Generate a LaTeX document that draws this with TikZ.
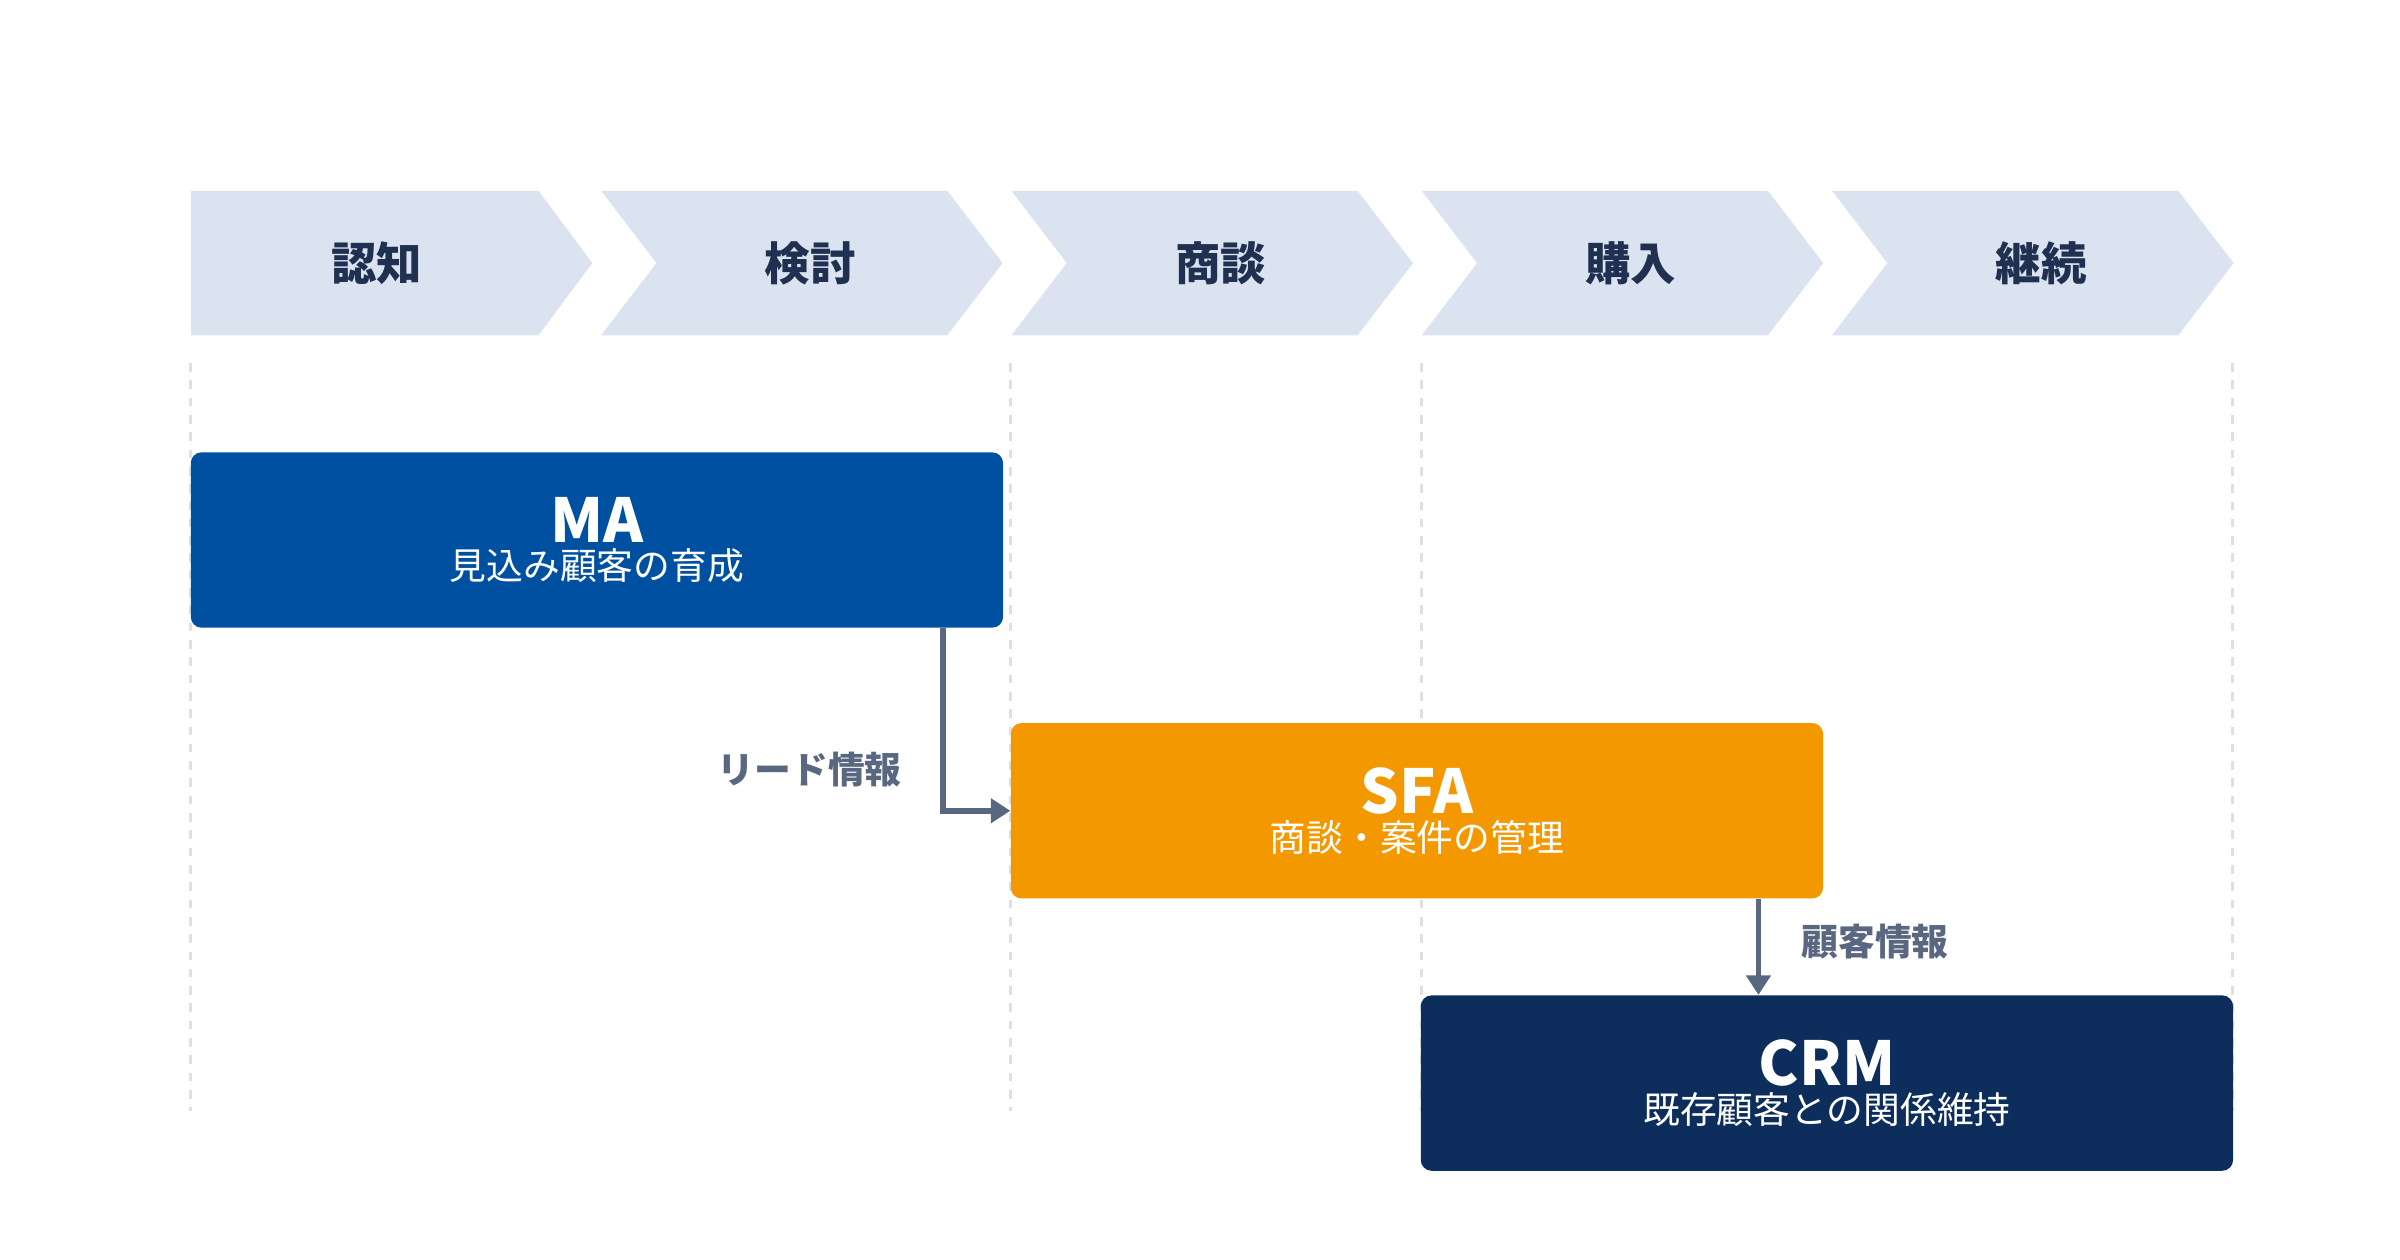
\documentclass[tikz,border=0pt]{standalone}
\usepackage{fontspec}
\setmainfont{Noto Sans CJK JP}
\usetikzlibrary{positioning,arrows.meta}
\definecolor{chevfill}{HTML}{DAE3EF}
\definecolor{chevtext}{HTML}{1F3050}
\definecolor{maBlue}{HTML}{0050A2}
\definecolor{sfaOrange}{HTML}{F39800}
\definecolor{crmNavy}{HTML}{0D2E5C}
\definecolor{flowGray}{HTML}{5A6780}
\definecolor{gridGray}{HTML}{DDE1E6}
\newcommand{\systitlefont}{\fontsize{28}{32}\selectfont\bfseries}
\newcommand{\syssubfont}{\fontsize{17}{20}\selectfont}

\begin{document}
\begin{tikzpicture}[x=0.025cm, y=-0.025cm,
    stage/.style={font=\fontsize{21}{24}\selectfont\bfseries, text=chevtext},
    sysbox/.style={rounded corners=5pt, minimum width=528*0.025cm, minimum height=114*0.025cm, text=white, align=center, inner sep=0pt},
    flow/.style={draw=flowGray, line width=2.6pt, -{Triangle[length=9pt,width=11pt]}},
    flowlabel/.style={font=\fontsize{17}{20}\selectfont\bfseries, text=flowGray},
    guide/.style={draw=gridGray, line width=1.2pt, dash pattern=on 4pt off 4pt}]
  \useasboundingbox (0,0) rectangle (1560,819);
  % guide lines
  \foreach \gx in {124,657,924,1451}
    \draw[guide] (\gx,236) -- (\gx,722);
  % chevrons
  \fill[chevfill] (124,124) -- (350,124) -- (385,171) -- (350,218) -- (124,218) -- cycle;
  \node[stage] (s1) at (245,171) {認知};
  \foreach \i/\lbl in {1/検討,2/商談,3/購入,4/継続}{
    \pgfmathsetmacro{\xa}{124+266.7*\i}
    \fill[chevfill] (\xa,124) -- (\xa+225,124) -- (\xa+261,171) -- (\xa+225,218) -- (\xa,218) -- (\xa+36,171) -- cycle;
    \node[stage] (s\i) at (\xa+136,171) {\lbl};
  }
  % systems
  \node[sysbox, fill=maBlue] (ma) at (388,351) {{\systitlefont MA}\\[2pt]{\syssubfont 見込み顧客の育成}};
  \node[sysbox, fill=sfaOrange] (sfa) at (921,527) {{\systitlefont SFA}\\[2pt]{\syssubfont 商談・案件の管理}};
  \node[sysbox, fill=crmNavy] (crm) at (1187.5,704) {{\systitlefont CRM}\\[2pt]{\syssubfont 既存顧客との関係維持}};
  % flows
  \draw[flow] (ma.south -| 613,0) |- (sfa.west);
  \node[flowlabel, anchor=east] (lead) at (591,500) {リード情報};
  \draw[flow] (sfa.south -| 1143,0) -- (crm.north -| 1143,0);
  \node[flowlabel, anchor=west] (cust) at (1166,612) {顧客情報};
\end{tikzpicture}
\end{document}
